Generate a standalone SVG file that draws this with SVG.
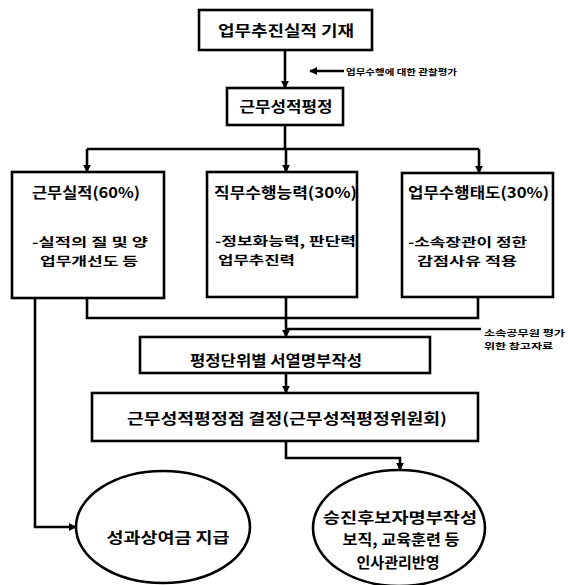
<svg xmlns="http://www.w3.org/2000/svg" width="568" height="585" viewBox="0 0 568 585">
<style>
.box{fill:#fff;stroke:#000;stroke-width:2.6}
.ln{fill:none;stroke:#000;stroke-width:2.6}
text{font-family:"Noto Sans CJK KR","Noto Sans",sans-serif;font-weight:bold;fill:#000}
.t{font-size:15px}
.b{font-size:12.5px}
.s{font-size:8.5px}
</style>
<defs>
<marker id="ah" viewBox="0 0 10 10" refX="9" refY="5" markerWidth="3" markerHeight="3" orient="auto" markerUnits="strokeWidth">
<path d="M0,0 L10,5 L0,10 z" fill="#000"/>
</marker>
</defs>
<g id="connectors">
<line class="ln" x1="285" y1="50" x2="285" y2="88" marker-end="url(#ah)"/>
<line class="ln" x1="344" y1="71" x2="310" y2="71" stroke-width="3.5" marker-end="url(#ah)"/>
<path class="ln" d="M285,125 V149 M87,149 H479"/>
<line class="ln" x1="87" y1="149" x2="87" y2="172" marker-end="url(#ah)"/>
<line class="ln" x1="286" y1="149" x2="286" y2="172" marker-end="url(#ah)"/>
<line class="ln" x1="479" y1="149" x2="479" y2="173" marker-end="url(#ah)"/>
<path class="ln" d="M87,298 V318 H478 V297"/>
<line class="ln" x1="286" y1="297" x2="286" y2="337" marker-end="url(#ah)"/>
<line class="ln" x1="481" y1="329" x2="286" y2="329"/>
<line class="ln" x1="286" y1="373" x2="286" y2="393" marker-end="url(#ah)"/>
<path class="ln" d="M35,298 V527 H76" marker-end="url(#ah)"/>
<path class="ln" d="M286,441 V458 H400 V470" marker-end="url(#ah)"/>
</g>
<g id="n1"><rect class="box" x="199" y="10" width="173" height="40"/><text class="t" x="286" y="36" text-anchor="middle" textLength="136" lengthAdjust="spacingAndGlyphs">업무추진실적 기재</text></g>
<g id="note1"><text class="s" x="346" y="75" textLength="111" lengthAdjust="spacingAndGlyphs">업무수행에 대한 관찰평가</text></g>
<g id="n2"><rect class="box" x="227" y="88" width="116" height="37"/><text class="t" x="286" y="112" text-anchor="middle" textLength="93" lengthAdjust="spacingAndGlyphs">근무성적평정</text></g>
<g id="n3"><rect class="box" x="12" y="172" width="152" height="126"/>
<text class="t" x="32" y="198" textLength="108" lengthAdjust="spacingAndGlyphs">근무실적(60%)</text>
<text class="b" x="32" y="247" textLength="116" lengthAdjust="spacingAndGlyphs">-실적의 질 및 양</text>
<text class="b" x="40" y="266" textLength="98" lengthAdjust="spacingAndGlyphs">업무개선도 등</text></g>
<g id="n4"><rect class="box" x="207" y="172" width="150" height="125"/>
<text class="t" x="214" y="198" textLength="143" lengthAdjust="spacingAndGlyphs">직무수행능력(30%)</text>
<text class="b" x="215" y="246" textLength="141" lengthAdjust="spacingAndGlyphs">-정보화능력, 판단력</text>
<text class="b" x="218" y="265" textLength="77" lengthAdjust="spacingAndGlyphs">업무추진력</text></g>
<g id="n5"><rect class="box" x="402" y="173" width="151" height="124"/>
<text class="t" x="408" y="198" textLength="141" lengthAdjust="spacingAndGlyphs">업무수행태도(30%)</text>
<text class="b" x="408" y="247" textLength="119" lengthAdjust="spacingAndGlyphs">-소속장관이 정한</text>
<text class="b" x="417" y="266" textLength="100" lengthAdjust="spacingAndGlyphs">감점사유 적용</text></g>
<g id="note2"><text class="s" x="484" y="336" textLength="81" lengthAdjust="spacingAndGlyphs">소속공무원 평가</text><text class="s" x="484" y="349" textLength="69" lengthAdjust="spacingAndGlyphs">위한 참고자료</text></g>
<g id="n6"><rect class="box" x="140" y="337" width="290" height="36"/><text class="t" x="276" y="366" text-anchor="middle" textLength="172" lengthAdjust="spacingAndGlyphs">평정단위별 서열명부작성</text></g>
<g id="n7"><rect class="box" x="92" y="393" width="386" height="48"/><text class="t" x="287" y="424" text-anchor="middle" textLength="320" lengthAdjust="spacingAndGlyphs">근무성적평정점 결정(근무성적평정위원회)</text></g>
<g id="n8"><ellipse class="box" cx="163" cy="527" rx="87" ry="56"/><text class="t" x="168" y="543" text-anchor="middle" textLength="123" lengthAdjust="spacingAndGlyphs">성과상여금 지급</text></g>
<g id="n9"><ellipse class="box" cx="399" cy="528" rx="86" ry="58"/>
<text class="t" x="400" y="523" text-anchor="middle" textLength="154" lengthAdjust="spacingAndGlyphs">승진후보자명부작성</text>
<text class="t" x="401" y="545" text-anchor="middle" textLength="117" lengthAdjust="spacingAndGlyphs">보직, 교육훈련 등</text>
<text class="t" x="398" y="568" text-anchor="middle" textLength="83" lengthAdjust="spacingAndGlyphs">인사관리반영</text></g>
</svg>
